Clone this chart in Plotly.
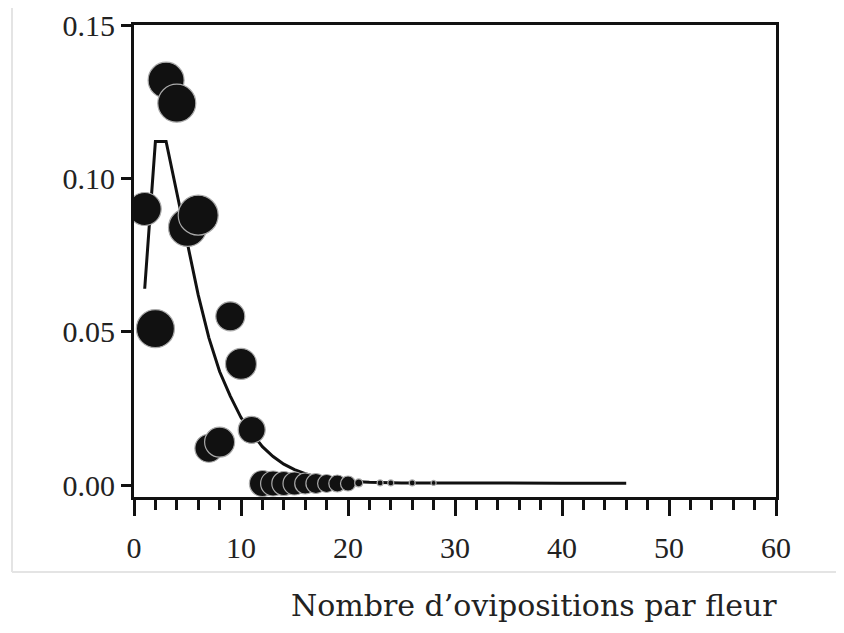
import plotly.graph_objects as go

# Observed frequencies (circle area ~ sample weight)
obs_x = [1, 2, 3, 4, 5, 6, 7, 8, 9, 10, 11,
         12, 13, 14, 15, 16, 17, 18, 19, 20, 21, 23, 24, 26, 28]
obs_y = [0.090, 0.051, 0.132, 0.1245, 0.084, 0.088, 0.012, 0.014, 0.055, 0.0395, 0.018,
         0.0005, 0.0005, 0.0005, 0.0005, 0.0005, 0.0005, 0.0005, 0.0005, 0.0005,
         0.0007, 0.0007, 0.0007, 0.0007, 0.0007]
obs_size = [33, 38, 36, 38, 38, 40, 28, 30, 29, 31, 27,
            26, 25, 24, 23, 21, 20, 18, 17, 15, 8, 6, 6, 6, 5]

# Fitted distribution
fit_x = [1, 2, 3, 4, 5, 6, 7, 8, 9, 10, 11, 12, 13, 14, 15, 16, 17, 18, 19, 20,
         22, 25, 30, 35, 40, 46]
fit_y = [0.064, 0.112, 0.112, 0.095, 0.078, 0.062, 0.048, 0.037, 0.029, 0.022, 0.017,
         0.0125, 0.0093, 0.0068, 0.0050, 0.0037, 0.0027, 0.0020, 0.0015, 0.0012,
         0.0009, 0.0007, 0.0006, 0.0006, 0.0006, 0.0006]

x_ticks = [0, 10, 20, 30, 40, 50, 60]
y_ticks = [0.00, 0.05, 0.10, 0.15]
x_title = "Nombre d\u2019ovipositions par fleur"

SERIF = "Liberation Serif, Times New Roman, Times, serif"

fig = go.Figure()
fig.add_trace(go.Scatter(x=fit_x, y=fit_y, mode="lines",
                         line=dict(color="#111111", width=3), showlegend=False))
fig.add_trace(go.Scatter(x=obs_x, y=obs_y, mode="markers",
                         marker=dict(size=obs_size, color="#111111", opacity=1,
                                     line=dict(color="#aaaaaa", width=1.2)),
                         showlegend=False))

W, H = 844, 633
L, R, T, B = 126, 76, 17, 144

fig.update_layout(
    width=W, height=H,
    margin=dict(l=L, r=R, t=T, b=B, autoexpand=False),
    paper_bgcolor="white", plot_bgcolor="white",
    font=dict(family=SERIF, color="#222222", size=30),
    xaxis=dict(range=[0, 60], tickvals=x_ticks, ticks="outside", ticklen=16, tickwidth=2.5,
               tickcolor="#111111", showline=True, linecolor="#111111", linewidth=3,
               mirror=True, showgrid=False, zeroline=False, ticklabelstandoff=6,
               automargin=False,
               tickfont=dict(family=SERIF, size=30, color="#222222"),
               minor=dict(dtick=2, ticks="outside", ticklen=10, tickwidth=2.5, tickcolor="#111111")),
    yaxis=dict(range=[-0.0039, 0.15], tickvals=y_ticks, tickformat=".2f", ticks="outside",
               ticklen=10, tickwidth=2.5, tickcolor="#111111", showline=True,
               linecolor="#111111", linewidth=3, mirror=True, showgrid=False, zeroline=False,
               automargin=False,
               tickfont=dict(family=SERIF, size=30, color="#222222")),
)

pw, ph = W - L - R, H - T - B
fig.add_annotation(text=x_title, xref="paper", yref="paper",
                   x=(526 - L) / pw, y=-(597 - (H - B)) / ph,
                   xanchor="center", yanchor="middle", showarrow=False,
                   font=dict(family="DejaVu Serif", size=30, color="#222222"))

# faint scan frame lines
fig.add_shape(type="line", xref="paper", yref="paper",
              x0=(4 - L) / pw, x1=(4 - L) / pw, y0=1 + T / ph, y1=-(564 - (H - B)) / ph,
              line=dict(color="#e4e4e4", width=2))
fig.add_shape(type="line", xref="paper", yref="paper",
              x0=(4 - L) / pw, x1=(W - L) / pw, y0=-(564 - (H - B)) / ph, y1=-(564 - (H - B)) / ph,
              line=dict(color="#e4e4e4", width=2))

fig.write_html("out.html")
